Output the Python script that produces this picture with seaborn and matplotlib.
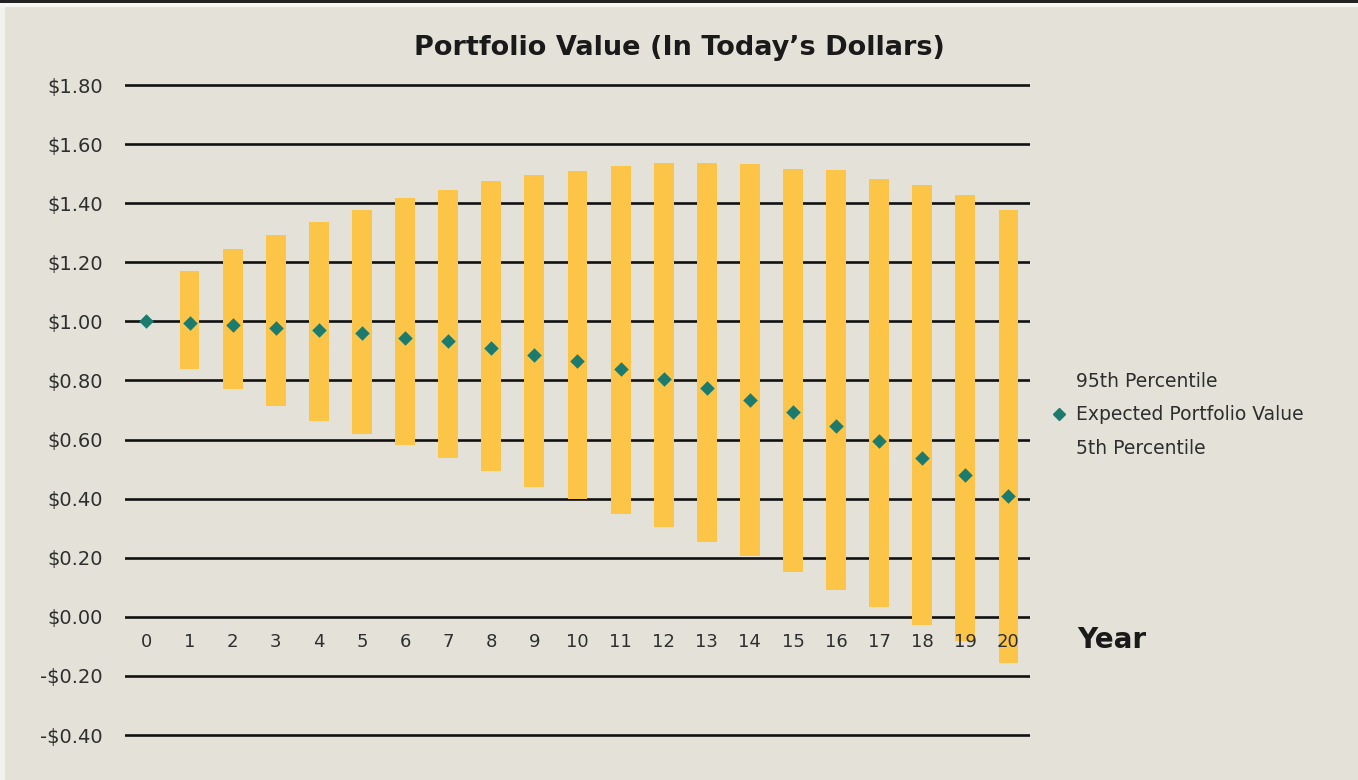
import matplotlib.pyplot as plt
import matplotlib.ticker as mticker
from matplotlib.lines import Line2D
from matplotlib.patches import Rectangle
import seaborn as sns
import pandas as pd

# values (dollars, today's value of $1)
years = list(range(21))
pct_95 = [1.00, 1.17, 1.245, 1.293, 1.336, 1.377, 1.419, 1.444, 1.475, 1.494, 1.509,
          1.525, 1.535, 1.535, 1.533, 1.517, 1.511, 1.483, 1.461, 1.427, 1.378]
pct_5 = [1.00, 0.84, 0.77, 0.714, 0.662, 0.620, 0.580, 0.539, 0.492, 0.440, 0.398,
         0.347, 0.304, 0.254, 0.206, 0.151, 0.092, 0.033, -0.027, -0.081, -0.155]
expected = [1.00, 0.995, 0.987, 0.978, 0.972, 0.960, 0.945, 0.932, 0.910, 0.887, 0.866,
            0.840, 0.806, 0.773, 0.733, 0.694, 0.647, 0.595, 0.539, 0.479, 0.410]
y_ticks = [1.80, 1.60, 1.40, 1.20, 1.00, 0.80, 0.60, 0.40, 0.20, 0.00, -0.20, -0.40]

BG = "#E3E1D8"
BAR = "#FDC548"
TEAL = "#1B7B6F"
TXT = "#2E2E2E"

df = pd.DataFrame({"year": years, "p95": pct_95, "p5": pct_5, "expected": expected})

sns.set_theme(style="white")
plt.rcParams["font.family"] = ["DejaVu Sans"]

fig = plt.figure(figsize=(13.58, 7.8), dpi=100, facecolor=BG)
ax = fig.add_axes([0.092, 0.0501, 0.6665, 0.8485])
ax.set_facecolor(BG)

# range bars 5th -> 95th percentile (year 0 has no spread)
ranged = df[df["year"] > 0]
ax.bar(ranged["year"], ranged["p95"] - ranged["p5"], bottom=ranged["p5"],
       width=0.46, color=BAR, zorder=2, linewidth=0)

sns.scatterplot(data=df, x="year", y="expected", marker="D", s=55, color=TEAL,
                edgecolor=TEAL, linewidth=0, zorder=3, ax=ax, legend=False)

ax.set_xlim(-0.5, 20.5)
ax.set_ylim(-0.42, 1.82)
ax.set_yticks(y_ticks)
ax.yaxis.set_major_formatter(mticker.FuncFormatter(
    lambda v, _: f"-${abs(v):.2f}" if v < -1e-9 else f"${v:.2f}"))
ax.set_xticks([])
ax.set_xlabel("")
ax.set_ylabel("")
ax.tick_params(axis="y", length=0, pad=16, labelsize=14, labelcolor=TXT)
ax.yaxis.grid(True, color="#111111", linewidth=1.9, zorder=1)
ax.set_axisbelow(True)
sns.despine(ax=ax, left=True, bottom=True)

# year labels sit inside the plot, between the $0.00 and -$0.20 lines
for yr in years:
    ax.text(yr, -0.086, str(yr), ha="center", va="center", fontsize=13,
            color=TXT, zorder=4)

fig.text(0.793, 0.179, "Year", ha="left", va="center", fontsize=20,
         fontweight="bold", color="#1a1a1a")
fig.text(0.5, 0.938, "Portfolio Value (In Today\u2019s Dollars)", ha="center",
         va="center", fontsize=19.5, fontweight="bold", color="#1a1a1a")

handles = [
    Line2D([], [], linestyle="none", marker="D", markersize=0, color=BG),
    Line2D([], [], linestyle="none", marker="D", markersize=6, color=TEAL),
    Line2D([], [], linestyle="none", marker="D", markersize=0, color=BG),
]
labels = ["95th Percentile", "Expected Portfolio Value", "5th Percentile"]
fig.legend(handles, labels, loc="center left", bbox_to_anchor=(0.762, 0.468),
           frameon=False, fontsize=13.5, handlelength=0.8, handletextpad=0.5,
           labelspacing=0.75, labelcolor=TXT)

# thin frame strips from the source image
fig.patches.append(Rectangle((0, 0.9962), 1, 0.0038, transform=fig.transFigure,
                             facecolor="#222222", edgecolor="none", zorder=5))
fig.patches.append(Rectangle((0, 0.991), 1, 0.0052, transform=fig.transFigure,
                             facecolor="#F7F6F1", edgecolor="none", zorder=5))
fig.patches.append(Rectangle((0, 0), 0.0037, 0.991, transform=fig.transFigure,
                             facecolor="#F2F1EC", edgecolor="none", zorder=5))

fig.savefig("out.png", dpi=100, facecolor=BG)
print("Saved out.png")
